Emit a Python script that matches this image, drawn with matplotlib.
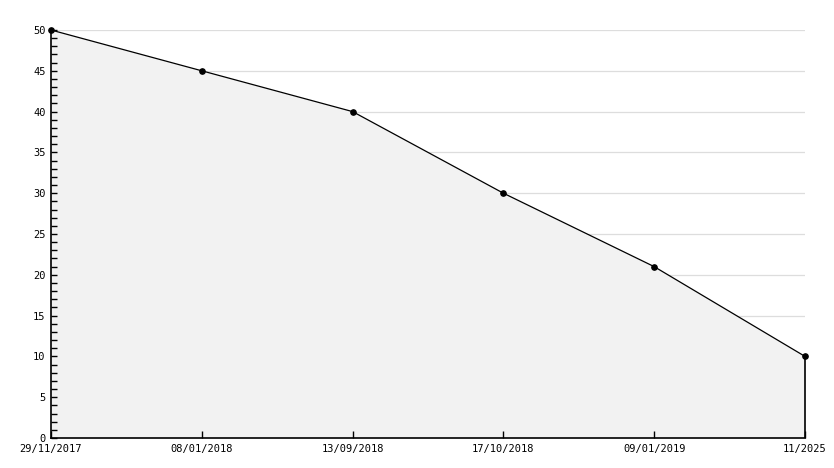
import matplotlib
matplotlib.use("Agg")
import matplotlib.pyplot as plt

dates = ["29/11/2017", "08/01/2018", "13/09/2018", "17/10/2018", "09/01/2019", "11/2025"]
values = [50, 45, 40, 30, 21, 10]
y_major = list(range(0, 51, 5))

plt.rcParams['font.family'] = ['DejaVu Sans Mono']
fig = plt.figure(figsize=(8.34, 4.68), dpi=100)
ax = fig.add_axes([51/834, 30/468, (805-51)/834, (438-30)/468])

x = list(range(len(dates)))
for yv in y_major[1:]:
    ax.axhline(yv, color="#dddddd", lw=0.9, zorder=1)
ax.fill_between(x, values, 0, color="#f2f2f2", zorder=2, linewidth=0)
ax.plot(x, values, color="black", lw=0.9, marker="o", ms=3.8, zorder=4, clip_on=False)
ax.vlines(x[-1], 0, values[-1], color="black", lw=1.2, zorder=4, clip_on=False)

ax.set_xlim(0, len(dates) - 1)
ax.set_ylim(0, 50)
ax.set_xticks(x)
ax.set_xticklabels(dates)
ax.set_yticks(y_major)
ax.set_yticks([v for v in range(0, 51) if v % 5 != 0], minor=True)
ax.set_axisbelow(False)

for s in ["top", "right"]:
    ax.spines[s].set_visible(False)
for s in ["left", "bottom"]:
    ax.spines[s].set_linewidth(1.2)
    ax.spines[s].set_zorder(5)

ax.tick_params(axis="y", which="major", direction="in", length=4.5, width=1, labelsize=7.5, pad=4)
ax.tick_params(axis="y", which="minor", direction="in", length=4, width=1)
ax.tick_params(axis="x", which="major", direction="in", length=5, width=1, labelsize=7.5, pad=4)

fig.savefig("out.png", dpi=100, facecolor="white")
